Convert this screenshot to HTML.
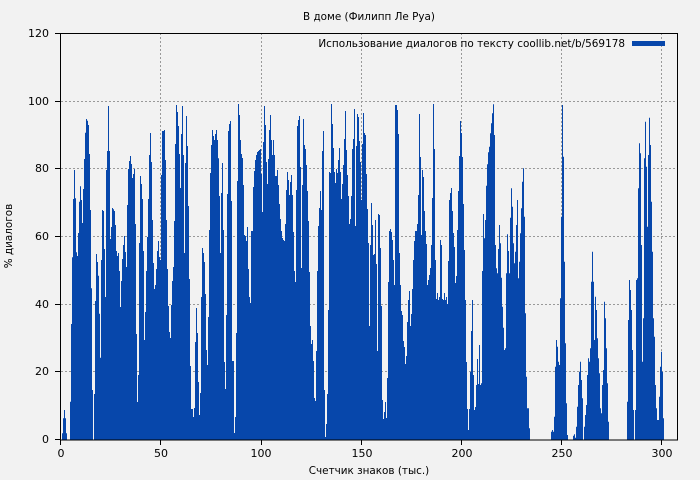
<!DOCTYPE html>
<html><head><meta charset="utf-8"><style>
html,body{margin:0;padding:0;background:#f2f2f2;}
svg{display:block;font-family:"DejaVu Sans","Liberation Sans",sans-serif;}
</style></head><body>
<svg id="s" width="700" height="480" viewBox="0 0 700 480" xmlns="http://www.w3.org/2000/svg">
<rect width="700" height="480" fill="#f2f2f2"/>
<g stroke="#999" stroke-width="1" stroke-dasharray="2,2" fill="none">
<line x1="61" y1="101.5" x2="678" y2="101.5"/><line x1="61" y1="168.5" x2="678" y2="168.5"/>
<line x1="61" y1="236.5" x2="678" y2="236.5"/><line x1="61" y1="304.5" x2="678" y2="304.5"/>
<line x1="61" y1="371.5" x2="678" y2="371.5"/>
<line x1="160.5" y1="33" x2="160.5" y2="440"/><line x1="261.5" y1="33" x2="261.5" y2="440"/>
<line x1="361.5" y1="33" x2="361.5" y2="440"/><line x1="461.5" y1="33" x2="461.5" y2="440"/>
<line x1="561.5" y1="33" x2="561.5" y2="440"/><line x1="661.5" y1="33" x2="661.5" y2="440"/>
</g>
<path id="bars" fill="#0747ab" d=""/>
<rect x="60.5" y="33.5" width="617" height="406.5" fill="none" stroke="#000" stroke-width="1"/>
<g stroke="#000" stroke-width="1">
<line x1="60.5" y1="440" x2="60.5" y2="445"/><line x1="160.5" y1="440" x2="160.5" y2="445"/>
<line x1="261.5" y1="440" x2="261.5" y2="445"/><line x1="361.5" y1="440" x2="361.5" y2="445"/>
<line x1="461.5" y1="440" x2="461.5" y2="445"/><line x1="561.5" y1="440" x2="561.5" y2="445"/>
<line x1="661.5" y1="440" x2="661.5" y2="445"/>
<line x1="55" y1="33.5" x2="60" y2="33.5"/><line x1="55" y1="101.5" x2="60" y2="101.5"/>
<line x1="55" y1="168.5" x2="60" y2="168.5"/><line x1="55" y1="236.5" x2="60" y2="236.5"/>
<line x1="55" y1="304.5" x2="60" y2="304.5"/><line x1="55" y1="371.5" x2="60" y2="371.5"/>
<line x1="55" y1="439.5" x2="60" y2="439.5"/>
</g>
<g font-size="11" fill="#000" text-anchor="middle">
<text x="61" y="457">0</text><text x="161" y="457">50</text><text x="261" y="457">100</text>
<text x="362" y="457">150</text><text x="462" y="457">200</text><text x="562" y="457">250</text>
<text x="662" y="457">300</text>
</g>
<g font-size="11" fill="#000" text-anchor="end">
<text x="49" y="443">0</text><text x="49" y="375">20</text><text x="49" y="308">40</text>
<text x="49" y="240">60</text><text x="49" y="172">80</text><text x="49" y="105">100</text>
<text x="49" y="37">120</text>
</g>
<text x="369" y="20" font-size="10.4" text-anchor="middle">В доме (Филипп Ле Руа)</text>
<text x="369" y="474" font-size="10.4" text-anchor="middle">Счетчик знаков (тыс.)</text>
<text transform="translate(12,236) rotate(-90)" font-size="10.4" text-anchor="middle">% диалогов</text>
<text x="625" y="47" font-size="10.45" text-anchor="end">Использование диалогов по тексту coollib.net/b/569178</text>
<rect x="632" y="41" width="33" height="5" fill="#0747ab"/>
</svg>
<script>
var segs=[
[62,[1225,1180,1155,1180,1225,1245,1245,1245]],
[70,[1130,897,697,522,435,520,682,693,624,530,484,525,594,492,402,323,282,287,300,387,555,790,1095,1245,1107,828,687,711,752,866,998,705,555,558,672,816,435,378,243,378,642,606,549,553,558,600,678,693,684,738,846,768,702,660,633,681,726,540,432,408,393,417,459,447,432,597,927,1131,1050,654,453,477,522,678,945,861,738,636,522,390,324,411,585,714,792,780,732,678,648,696,705,450,318,318,315,405,585,732,843,921,939,840,768,726,588,357,240,261,303,387,489,327,243,390,684,414,273,363,543,762,1023,1152,1152,1176,1149,951,849,924,1071,1170,1104,816,669,684,711,807,975,1020,876,615,444,360,315,333,345,327,315,345,400,513,684,504,414,615,1011,1092,870,507,318,297,288,528,1008,1008,1224,1176,924,468,237,270,345,387,399,480,630,633,648,606,732,816,834,618,618,486,438,405,390,381,378,375,372,447,561,351,243,300,411,477,402,315,270,345,390,390]],
[273,[345,390,453,453,435,480,537,582,618,639,645,648,597,495,441,465,510,471,450,510,621,738,771,495,303,285,273,426,729,480,282,360,372,420,498,588,741,903,957,945,1008,1119,1128,978,738,603,549,498,555,378,318,1095,1236,1197,1107,855,441,444,237,297,369,441,474,432,444,405,369,441,522,477,420,342,258,375,450,513,597,582,513,372,342,252,603,363,267,276,348,411,525,357,264,324,330,447,552,654,903,660,534,600,690,687,585,717,978,567,570,669,843,1125,1182,1161,1131,1179,1059,771,618,612,621,645,705,780,240,240,255,327,684,780,858,870,948,966,1017,993,891,825,798,903,867,792,705,648,618,618,597,510,267,396,630,435,456,558,618,657,780,765,750,729,660,519,237,372,705,822,804,825,816,645,660,822,825,804,825,816,837,708,525,504,489,558,624,666,774,753,615,498,393,288,324,396,537,675,825,1011,1152,1215,1152,1041,918,825,1050,1155,1146,1080,1002,1077,960,1080]],
[481,[1075,738,567,640,585,482,418,382,365,325,295,265,238,330,660,730,745,672,600,655,758,845,908,975,970,745,628,678,745,578,490,545,655,715,680,600,525,760,710,625,550,470,430,575,865,1055,1150,1150,1210,1240,1245,1245,1245,1245,1245,1245,1245,1245,1245,1245,1245,1245,1245,1245,1245,1245,1245,1245,1245,1240,1220,1215,1220,1175,1025,945,965,1010,1020,820,575,240,395,710,955,1135,1230,1240,1245,1245,1245,1240,1232,1228,1238,1205,1145,1080,1040,1010,1065,1120,1245,1205,1170,1140,1050,1000,1010,970,770,680,770,945,815,855,940,1000,1045,1150,1165,1080,1035,830,880,970,1075,1190,1245,1245,1245,1245,1245,1245,1245,1245,1245,1245,1245,1245,1245,1245,1245,1245,1245,1245,1130,885,765,795,855,975,1155,1245,1155,765,760,490,355,385,660,1010,880,400,290,425,605,390,278,360,530,680,880,935,1080,1150,1185,1185,1115,1025,980,1040,1180,1245]]
];
var d="";
segs.forEach(function(s){var x=s[0];s[1].forEach(function(zy,i){if(zy>=1240)return;var y=(25+zy/3).toFixed(1);var xx=x+i;d+="M"+xx+" "+y+"V440H"+(xx+1)+"V"+y+"Z";});});
document.getElementById("bars").setAttribute("d",d);
</script>
</body></html>
